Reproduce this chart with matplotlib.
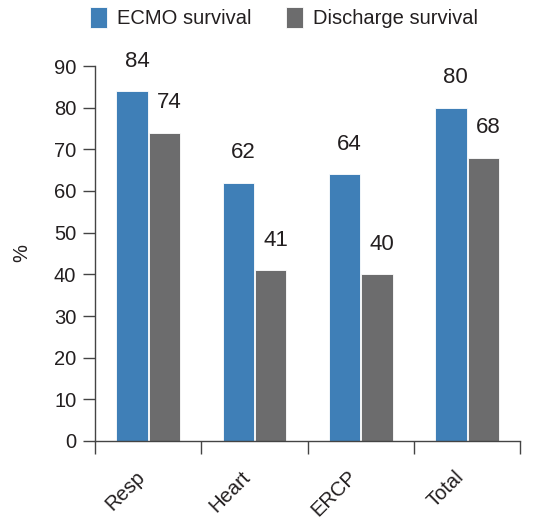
import matplotlib
matplotlib.use("Agg")
import matplotlib.pyplot as plt
import numpy as np

categories = ["Resp", "Heart", "ERCP", "Total"]
ecmo_survival = [84, 62, 64, 80]
discharge_survival = [74, 41, 40, 68]
series_names = ["ECMO survival", "Discharge survival"]
y_ticks = [0, 10, 20, 30, 40, 50, 60, 70, 80, 90]

BLUE = "#3f7fb7"
GRAY = "#6c6c6d"
TEXT = "#231f20"
AXIS = "#444444"

plt.rcParams["font.family"] = ["Liberation Sans", "DejaVu Sans"]

fig = plt.figure(figsize=(5.33, 5.2), dpi=100)
ax = fig.add_axes([95 / 533, 79 / 520, 425 / 533, 375 / 520])

x = np.arange(len(categories)) + 0.5
w = 0.295
b1 = ax.bar(x - w / 2 - 0.003, ecmo_survival, width=w, color=BLUE,
            edgecolor="white", linewidth=0.6, label=series_names[0], zorder=2)
b2 = ax.bar(x + w / 2 + 0.007, discharge_survival, width=w, color=GRAY,
            edgecolor="white", linewidth=0.6, label=series_names[1], zorder=2)

for bars, vals in ((b1, ecmo_survival), (b2, discharge_survival)):
    for rect, v in zip(bars, vals):
        ax.annotate(f"{v}", (rect.get_x() + rect.get_width() / 2, v),
                    xytext=(3.5, 21.5), textcoords="offset points",
                    ha="center", va="center", fontsize=16, color=TEXT,
                    annotation_clip=False)

ax.set_xlim(0, 4)
ax.set_ylim(0, 90)
ax.set_yticks(y_ticks)
ax.set_xticks([0, 1, 2, 3, 4])
ax.set_xticklabels([])
ax.tick_params(axis="x", which="major", direction="out", length=9,
               width=1, color=AXIS)
ax.tick_params(axis="y", direction="out", length=8.5, width=1, color=AXIS,
               labelsize=14.5, labelcolor=TEXT, pad=5)

# category names, rotated and hanging below each group
for xi, name in zip(x, categories):
    ax.annotate(name, (xi, 0), xycoords=("data", "axes fraction"),
                xytext=(-9.5, -19), textcoords="offset points",
                rotation=45, rotation_mode="anchor", ha="right", va="top",
                fontsize=14.5, color=TEXT, annotation_clip=False)

for s in ("top", "right"):
    ax.spines[s].set_visible(False)
for s in ("left", "bottom"):
    ax.spines[s].set_color(AXIS)
    ax.spines[s].set_linewidth(1)

ax.set_ylabel("%", fontsize=14.5, color=TEXT, labelpad=16)

fig.legend(handles=[b1, b2], labels=series_names, loc="upper left",
           bbox_to_anchor=(79 / 533, 1.008), ncol=2, frameon=False,
           fontsize=14.5, handlelength=0.85, handleheight=1.2,
           handletextpad=0.5, columnspacing=1.7, labelcolor=TEXT,
           borderaxespad=0.15)

fig.savefig("out.png", dpi=100)
